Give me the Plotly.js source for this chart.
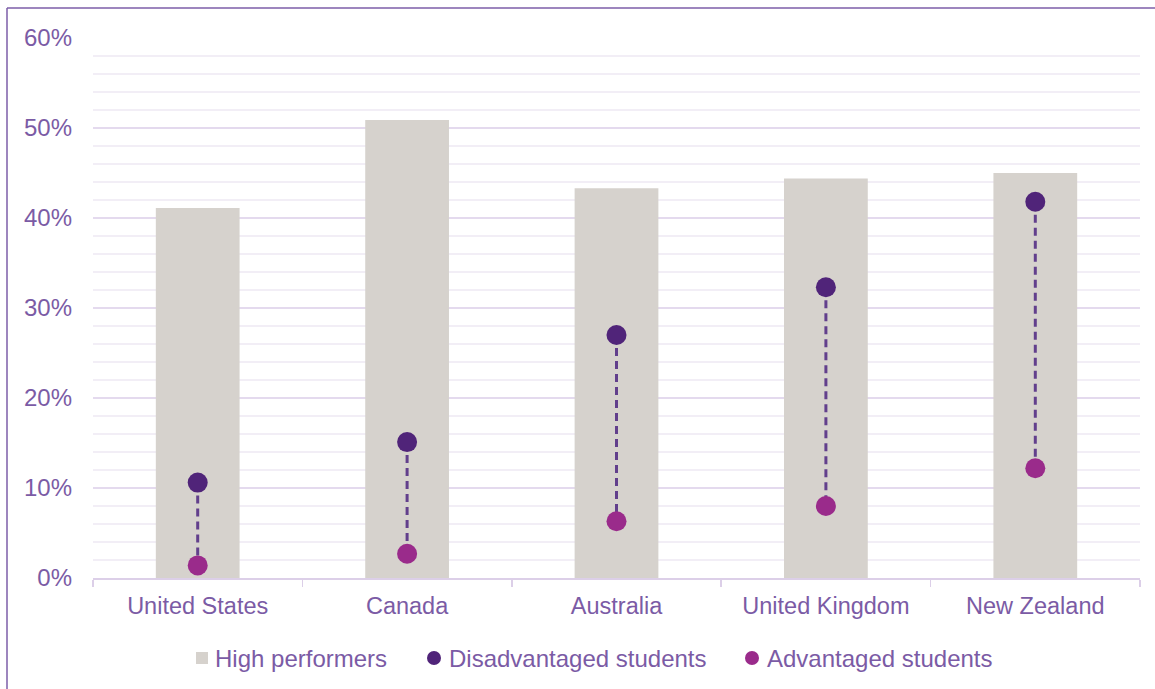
<!DOCTYPE html>
<html>
<head>
<meta charset="utf-8">
<script src="https://cdn.plot.ly/plotly-3.0.1.min.js"></script>
<style>
  html, body { margin: 0; padding: 0; background: #ffffff; }
  #chart { width: 1155px; height: 689px; }
</style>
</head>
<body>
<div id="chart"></div>
<script>
// ---- Data (percent) ----
const countries = ["United States", "Canada", "Australia", "United Kingdom", "New Zealand"];
const highPerformers = [41.1, 50.9, 43.3, 44.4, 45.0];
const disadvantaged = [10.6, 15.1, 27.0, 32.3, 41.8];
const advantaged = [1.4, 2.7, 6.3, 8.0, 12.2];
const yTickVals = [0, 10, 20, 30, 40, 50, 60];
const yTickText = ["0%", "10%", "20%", "30%", "40%", "50%", "60%"];
const seriesNames = ["High performers", "Disadvantaged students", "Advantaged students"];

const textColor = "#7b5ba5";
const fontFamily = "'Liberation Sans', Arial, sans-serif";
const colors = { bar: "#d6d2cd", dis: "#502479", adv: "#9a2b8b", line: "#623f8c" };

// dashed connectors built from the data
const lineX = [], lineY = [];
countries.forEach((c, i) => {
  lineX.push(c, c, null);
  lineY.push(disadvantaged[i], advantaged[i], null);
});

const traces = [
  {
    type: "bar", name: seriesNames[0],
    x: countries, y: highPerformers, width: 0.4,
    marker: { color: colors.bar }
  },
  {
    type: "scatter", mode: "lines",
    x: lineX, y: lineY,
    line: { color: colors.line, width: 3, dash: "8px,5px" },
    hoverinfo: "skip"
  },
  {
    type: "scatter", mode: "markers", name: seriesNames[1],
    x: countries, y: disadvantaged,
    marker: { color: colors.dis, size: 20 }
  },
  {
    type: "scatter", mode: "markers", name: seriesNames[2],
    x: countries, y: advantaged,
    marker: { color: colors.adv, size: 20 }
  }
];

// pixel -> paper helpers (plot area: x 93..1140, y 38..578)
const PX = px => (px - 93) / 1047;
const PY = py => (578 - py) / 540;

// custom legend (symbols + text)
const legY = 658;
const legTextX = [213, 447, 765];
const legendAnnotations = seriesNames.map((n, i) => ({
  text: n, xref: "paper", yref: "paper", x: PX(legTextX[i]), y: PY(legY),
  xanchor: "left", yanchor: "middle", showarrow: false,
  font: { size: 24, color: textColor, family: fontFamily }
}));
const legendShapes = [
  { type: "rect", xref: "paper", yref: "paper", x0: PX(196), x1: PX(208), y0: PY(664), y1: PY(652),
    fillcolor: colors.bar, line: { width: 0 } },
  { type: "circle", xref: "paper", yref: "paper", x0: PX(427), x1: PX(441), y0: PY(665), y1: PY(651),
    fillcolor: colors.dis, line: { width: 0 } },
  { type: "circle", xref: "paper", yref: "paper", x0: PX(745), x1: PX(759), y0: PY(665), y1: PY(651),
    fillcolor: colors.adv, line: { width: 0 } }
];

const layout = {
  width: 1155, height: 689,
  margin: { l: 93, r: 15, t: 38, b: 111 },
  paper_bgcolor: "#ffffff", plot_bgcolor: "#ffffff",
  font: { family: fontFamily, color: textColor, size: 22 },
  showlegend: false,
  xaxis: {
    type: "category",
    showline: true, linecolor: "#dccfe8", linewidth: 2,
    ticks: "outside", tickson: "boundaries", ticklen: 7, tickcolor: "#dccfe8", tickwidth: 1.5,
    tickfont: { size: 23.5, color: textColor },
    showgrid: false, zeroline: false,
    ticklabelstandoff: 6
  },
  yaxis: {
    range: [0, 60],
    tickvals: yTickVals, ticktext: yTickText,
    tickfont: { size: 24, color: textColor },
    showgrid: true, gridcolor: "#e4daee", gridwidth: 1.5,
    minor: { dtick: 2, tick0: 0, showgrid: true, gridcolor: "#f2eef6", gridwidth: 1.5, ticks: "" },
    zeroline: false, showline: false, ticks: "",
    ticklabelstandoff: 20
  },
  annotations: legendAnnotations,
  shapes: [
    { type: "line", xref: "paper", yref: "paper",
      x0: PX(7), x1: PX(7), y0: PY(8), y1: PY(720),
      line: { color: "#7d5ea8", width: 1.5 } },
    { type: "line", xref: "paper", yref: "paper",
      x0: PX(7), x1: PX(1200), y0: PY(8), y1: PY(8),
      line: { color: "#7d5ea8", width: 1.5 } }
  ].concat(legendShapes)
};

Plotly.newPlot("chart", traces, layout, { displayModeBar: false, staticPlot: true });
</script>
</body>
</html>
